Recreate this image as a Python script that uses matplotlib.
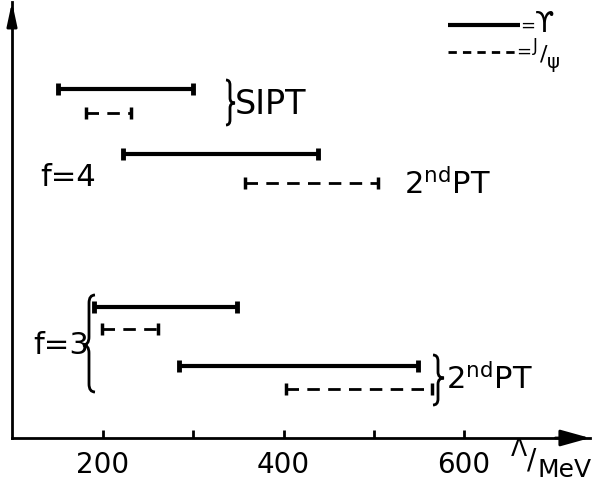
import numpy as np
import matplotlib.pyplot as plt
from matplotlib.path import Path
from matplotlib.patches import PathPatch

plt.rcParams['font.family'] = ['DejaVu Sans']
plt.rcParams['mathtext.fontset'] = 'dejavusans'

# Upsilon (solid) intervals, Lambda in MeV
ups_lo = [150, 222, 190, 284]
ups_hi = [300, 438, 349, 549]
ups_row = [349, 284, 131, 72]

# J/psi (dashed) intervals
psi_lo = [181, 357, 199, 403]
psi_hi = [231, 505, 261, 565]
psi_row = [325, 255, 109, 49]

xticks = [200, 300, 400, 500, 600]
xticklabels = ['200', '', '400', '', '600']

W, H = 603, 486

# pixel helpers for the annotations (px measured from top-left of figure)
def X(px):
    return 200 + (px - 103) / 0.9025

def Y(py):
    return 438 - py

fig = plt.figure(figsize=(W / 100, H / 100), dpi=100)
ax = fig.add_axes([12 / W, 48 / H, 578 / W, 436 / H])
ax.set_xlim(X(12), X(590))
ax.set_ylim(0, 436)

for s in ['top', 'right']:
    ax.spines[s].set_visible(False)
for s in ['left', 'bottom']:
    ax.spines[s].set_linewidth(2)

ax.set_yticks([])
ax.set_xticks(xticks)
ax.set_xticklabels(xticklabels)
ax.tick_params(axis='x', direction='in', length=6, width=2, pad=9, labelsize=20)

# axis arrows
ax.annotate('', xy=(1, 0), xytext=(0.94, 0), xycoords='axes fraction',
            arrowprops=dict(arrowstyle='-|>,head_length=0.9,head_width=0.25',
                            lw=2, color='k', mutation_scale=20, shrinkA=0, shrinkB=0))
ax.annotate('', xy=(0, 1), xytext=(0, 0.94), xycoords='axes fraction',
            arrowprops=dict(arrowstyle='-|>,head_length=0.7,head_width=0.15',
                            lw=2, color='k', mutation_scale=20, shrinkA=0, shrinkB=0))

# Upsilon bars
for lo, hi, y in zip(ups_lo, ups_hi, ups_row):
    ax.plot([lo, hi], [y, y], color='k', lw=3, solid_capstyle='butt')
    ax.plot([lo, hi], [y, y], ls='none', marker='|', ms=9, mew=3.5, color='k')

# J/psi bars
for lo, hi, y in zip(psi_lo, psi_hi, psi_row):
    ax.plot([lo, hi], [y, y], color='k', lw=2, dashes=(4.5, 3))
    ax.plot([lo, hi], [y, y], ls='none', marker='|', ms=8, mew=2.5, color='k')


def brace(xs, xt, xe, yt, yb, ym, r=6):
    pts = [(xe, yt), (xs, yt), (xs, yt + r), (xs, ym - r), (xs, ym), (xt, ym),
           (xs, ym), (xs, ym + r), (xs, yb - r), (xs, yb), (xe, yb)]
    codes = [Path.MOVETO, Path.CURVE3, Path.CURVE3, Path.LINETO, Path.CURVE3,
             Path.CURVE3, Path.CURVE3, Path.CURVE3, Path.LINETO, Path.CURVE3,
             Path.CURVE3]
    verts = [(X(px), Y(py)) for px, py in pts]
    ax.add_patch(PathPatch(Path(verts, codes), fill=False, lw=2, color='k',
                           clip_on=False))


brace(230, 235, 226, 80, 125, 103, r=5)
brace(89, 83, 95, 295, 392, 345, r=8)
brace(438, 444, 433, 355, 405, 378, r=6)

fs = 22
ax.text(X(235), Y(104), 'SIPT', fontsize=24, va='center', ha='left')
ax.text(X(40), Y(178), 'f=4', fontsize=fs, va='center', ha='left')
ax.text(X(33), Y(345), 'f=3', fontsize=fs, va='center', ha='left')
ax.text(X(404), Y(194), r'2$^{\mathrm{nd}}$PT', fontsize=fs, va='baseline', ha='left')
ax.text(X(446), Y(389), r'2$^{\mathrm{nd}}$PT', fontsize=fs, va='baseline', ha='left')

# legend
ax.plot([0.754, 0.879], [0.947, 0.947], transform=ax.transAxes, color='k', lw=3,
        solid_capstyle='butt', clip_on=False)
ax.plot([0.754, 0.870], [0.885, 0.885], transform=ax.transAxes, color='k', lw=2,
        dashes=(3, 2.2), clip_on=False)
fig.text(520 / W, 1 - 26 / H, '=', fontsize=13, va='center', ha='left')
fig.text(535 / W, 1 - 24 / H, 'ϒ', fontsize=20, va='center', ha='left')
fig.text(516 / W, 1 - 52 / H, '=', fontsize=13, va='center', ha='left')
fig.text(533 / W, 1 - 46 / H, 'J', fontsize=12, va='center', ha='left')
fig.text(540 / W, 1 - 54 / H, '/', fontsize=16, va='center', ha='left')
fig.text(547 / W, 1 - 62 / H, 'ψ', fontsize=14, va='center', ha='left')

# x axis label  Lambda / MeV
fig.text(511 / W, 1 - 449 / H, 'Λ', fontsize=17, va='center', ha='left')
fig.text(527 / W, 1 - 460 / H, '/', fontsize=20, va='center', ha='left')
fig.text(538 / W, 1 - 470 / H, 'MeV', fontsize=18, va='center', ha='left')

fig.savefig('out.png', dpi=100)
